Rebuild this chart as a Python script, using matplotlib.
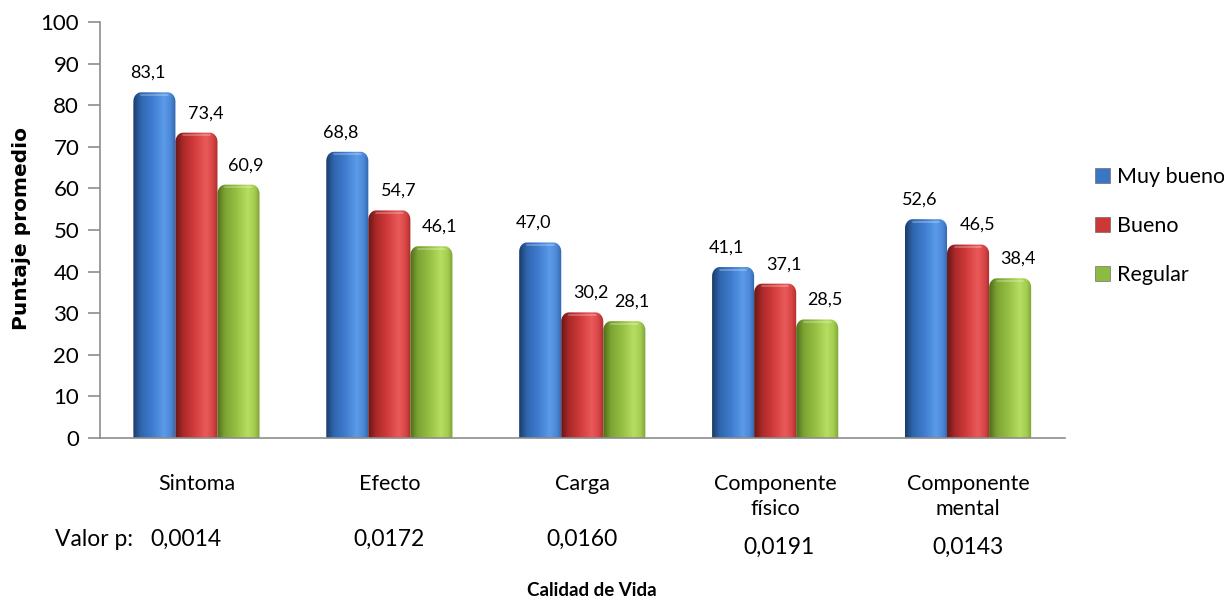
import numpy as np
import matplotlib

matplotlib.use("Agg")
import matplotlib.pyplot as plt
from matplotlib.colors import LinearSegmentedColormap
from matplotlib.patches import Patch, PathPatch
from matplotlib.path import Path

plt.rcParams["font.family"] = ["Lato", "DejaVu Sans"]

categories = ["Sintoma", "Efecto", "Carga", "Componente\nfísico", "Componente\nmental"]
p_values = ["0,0014", "0,0172", "0,0160", "0,0191", "0,0143"]
series = ["Muy bueno", "Bueno", "Regular"]
muy_bueno = [83.1, 68.8, 47.0, 41.1, 52.6]
bueno = [73.4, 54.7, 30.2, 37.1, 46.5]
regular = [60.9, 46.1, 28.1, 28.5, 38.4]
values = [muy_bueno, bueno, regular]

# horizontal shading across each cylinder: dark left edge, highlight on the right third
shades = {
    "Muy bueno": ["#1a3b68", "#2f65ad", "#3f7cd0", "#5b9be8", "#4c88d8", "#2f63a8"],
    "Bueno": ["#661717", "#a92828", "#d23b3b", "#ea5a5a", "#d84545", "#a92c2c"],
    "Regular": ["#4f6a1b", "#7ca332", "#95c043", "#b6de62", "#a3cd4f", "#7aa034"],
}
legend_colors = {"Muy bueno": "#3a76c4", "Bueno": "#cc3838", "Regular": "#8fba42"}
# value labels sit slightly off-centre, as in a 3-D column chart
label_dx = {"Muy bueno": -4.5, "Bueno": 6.5, "Regular": 5.5}

fig = plt.figure(figsize=(12.24, 6.02), dpi=100)
ax = fig.add_axes([0.0817, 0.2724, 0.788, 0.6911])

bar_w = 0.218
offsets = [-0.218, 0.0, 0.218]
rx, ry = 0.04, 2.2  # rounded top corners (data units)


def cylinder_path(x0, x1, h):
    t = np.linspace(0, np.pi / 2, 14)
    left = np.column_stack([x0 + rx - rx * np.cos(t), h - ry + ry * np.sin(t)])
    right = np.column_stack([x1 - rx + rx * np.sin(t), h - ry + ry * np.cos(t)])
    pts = np.vstack([[x0, 0], left, right, [x1, 0], [x0, 0]])
    return Path(pts, closed=True)


grad = np.linspace(0, 1, 256).reshape(1, -1)
for name, vals, off in zip(series, values, offsets):
    cmap = LinearSegmentedColormap.from_list(
        name, list(zip([0.0, 0.18, 0.45, 0.72, 0.88, 1.0], shades[name]))
    )
    for i, v in enumerate(vals):
        xc = i + off
        x0, x1 = xc - bar_w / 2, xc + bar_w / 2
        im = ax.imshow(grad, cmap=cmap, extent=(x0, x1, 0, v), aspect="auto",
                       interpolation="bicubic", zorder=2)
        clip = PathPatch(cylinder_path(x0, x1, v), transform=ax.transData,
                         facecolor="none", edgecolor="none")
        ax.add_patch(clip)
        im.set_clip_path(clip)
        # faint light rim along the cap
        ax.plot([x0 + rx, x1 - rx], [v - 0.6, v - 0.6], color="white",
                alpha=0.3, lw=1.2, zorder=3, solid_capstyle="round")
        ax.annotate(f"{v:.1f}".replace(".", ","), (xc, v), xytext=(label_dx[name], 14),
                    textcoords="offset points", ha="center", va="center",
                    fontsize=13, zorder=4)

ax.set_xlim(-0.5, 4.5)
ax.set_ylim(0, 100)

for s in ["top", "right"]:
    ax.spines[s].set_visible(False)
for s in ["left", "bottom"]:
    ax.spines[s].set_color("#8c8c8c")
    ax.spines[s].set_linewidth(1.2)

ax.set_yticks(range(0, 101, 10))
ax.tick_params(axis="y", direction="out", length=9, width=1.2, color="#8c8c8c",
               labelsize=16, pad=6)
ax.set_xticks([])

for i, (cat, p) in enumerate(zip(categories, p_values)):
    ax.annotate(cat, (i, 0), xycoords=("data", "axes fraction"), xytext=(0, -26),
                textcoords="offset points", ha="center", va="top", fontsize=15.5,
                linespacing=1.3)
    dy = -79 if "\n" in cat else -73
    dx = -0.055 if i == 0 else 0.02 * (i == 3)
    ax.annotate(p, (i + dx, 0), xycoords=("data", "axes fraction"), xytext=(0, dy),
                textcoords="offset points", ha="center", va="center", fontsize=16.5)

fig.text(55 / 1224, 1 - 540 / 602, "Valor p:", ha="left", va="center", fontsize=16.5)
fig.text(592 / 1224, 1 - 590 / 602, "Calidad de Vida", ha="center", va="center",
         fontsize=13.5, fontweight="bold")
fig.text(22 / 1224, 1 - 228 / 602, "Puntaje promedio", ha="center", va="center",
         rotation=90, fontsize=14.5, fontweight="bold", family="DejaVu Sans")

handles = [Patch(facecolor=legend_colors[n], edgecolor="#5a5a5a", linewidth=0.4)
           for n in series]
fig.legend(handles, series, loc="center left", bbox_to_anchor=(1084 / 1224, 1 - 226 / 602),
           frameon=False, fontsize=15.5, labelspacing=1.33, handlelength=0.7,
           handleheight=0.7, handletextpad=0.35, borderpad=0)

fig.savefig("out.png", dpi=100)
